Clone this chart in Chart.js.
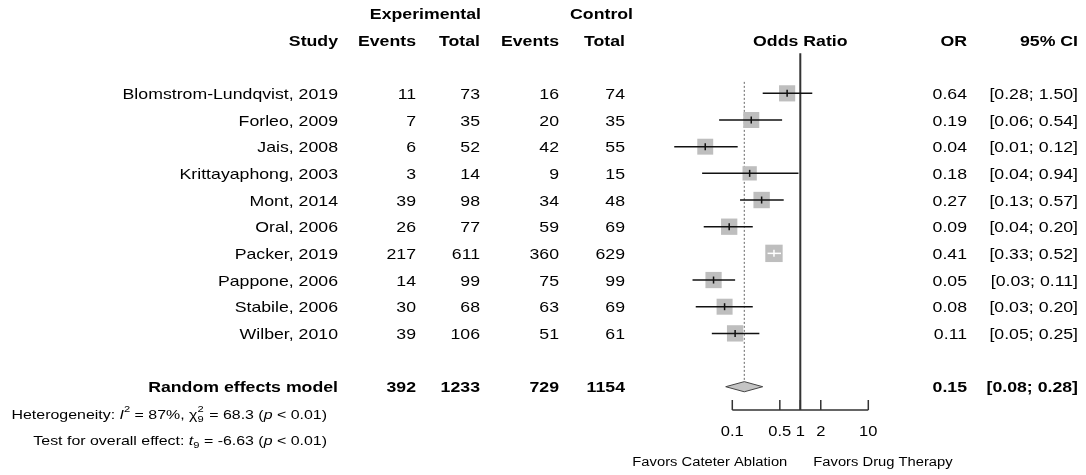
<!DOCTYPE html>
<html>
<head>
<meta charset="utf-8">
<script src="https://cdn.jsdelivr.net/npm/chart.js@4.4.0/dist/chart.umd.min.js"></script>
<style>
body { margin: 0; background: #fff; }
#wrap { width: 1086px; height: 475px; position: relative; }
</style>
</head>
<body>
<div id="wrap"><canvas id="forest"></canvas></div>
<script>
// study data
const studies = ['Blomstrom-Lundqvist, 2019', 'Forleo, 2009', 'Jais, 2008', 'Krittayaphong, 2003', 'Mont, 2014',
  'Oral, 2006', 'Packer, 2019', 'Pappone, 2006', 'Stabile, 2006', 'Wilber, 2010'];
const expEvents = [11, 7, 6, 3, 39, 26, 217, 14, 30, 39];
const expTotal = [73, 35, 52, 14, 98, 77, 611, 99, 68, 106];
const ctrlEvents = [16, 20, 42, 9, 34, 59, 360, 75, 63, 51];
const ctrlTotal = [74, 35, 55, 15, 48, 69, 629, 99, 69, 61];
const oddsRatio = [0.64, 0.19, 0.04, 0.18, 0.27, 0.09, 0.41, 0.053, 0.077, 0.11];
const ciLower = [0.28, 0.064, 0.014, 0.036, 0.13, 0.038, 0.33, 0.026, 0.029, 0.05];
const ciUpper = [1.50, 0.54, 0.12, 0.94, 0.57, 0.20, 0.52, 0.11, 0.20, 0.25];
const weights = [10.2, 10.0, 9.9, 8.0, 10.5, 10.4, 11.8, 10.3, 10.0, 10.4];

const pooledOR = 0.15;
const pooledLower = 0.08;
const pooledUpper = 0.28;
const axisTicks = [0.1, 0.5, 1, 2, 10];

const sum = a => a.reduce((s, v) => s + v, 0);
const summaryRow = studies.length + 1;
const axisRow = 11.875;

const SX = 1.18;   // the picture is stretched sideways
const FONT = '"Liberation Sans", Arial, sans-serif';

// column right edges
const colStudy = 338, colEE = 416, colET = 480, colCE = 559, colCT = 625, colOR = 967, colCI = 1078;

function txt(ctx, s, x, y, align, size, bold) {
  ctx.save();
  ctx.translate(x, y);
  ctx.scale(SX, 1);
  ctx.font = (bold ? 'bold ' : '') + size + 'px ' + FONT;
  ctx.textAlign = align;
  ctx.textBaseline = 'middle';
  ctx.fillStyle = '#000';
  ctx.fillText(s, 0, 0);
  ctx.restore();
}

function rich(ctx, parts, xRight, y, size) {
  ctx.save();
  ctx.translate(xRight, y);
  ctx.scale(SX, 1);
  ctx.textBaseline = 'middle';
  ctx.textAlign = 'left';
  ctx.fillStyle = '#000';
  const small = size * 0.7;
  const f = p => (p.i ? 'italic ' : '') + ((p.sup || p.sub || p.ss) ? small : size) + 'px ' + FONT;
  let w = 0;
  parts.forEach(p => {
    ctx.font = f(p);
    p.w = ctx.measureText(p.ss ? p.ss[0] : p.t).width + (p.ss ? 1 : 0);
    w += p.w;
  });
  let x = -w;
  parts.forEach(p => {
    ctx.font = f(p);
    if (p.ss) { ctx.fillText(p.ss[0], x, -size * 0.38); ctx.fillText(p.ss[1], x, size * 0.3); }
    else if (p.sup) ctx.fillText(p.t, x, -size * 0.38);
    else if (p.sub) ctx.fillText(p.t, x, size * 0.3);
    else ctx.fillText(p.t, x, 0);
    x += p.w;
  });
  ctx.restore();
}

const tablePlugin = {
  id: 'table',
  afterDraw(chart) {
    const ctx = chart.ctx;
    const xs = chart.scales.x, ys = chart.scales.y;
    const Y = r => ys.getPixelForValue(r) + 1.5;
    const S = 15;

    // headers
    txt(ctx, 'Experimental', 481, Y(-3), 'right', S, true);
    txt(ctx, 'Control', 633, Y(-3), 'right', S, true);
    txt(ctx, 'Study', colStudy, Y(-2), 'right', S, true);
    txt(ctx, 'Events', colEE, Y(-2), 'right', S, true);
    txt(ctx, 'Total', colET, Y(-2), 'right', S, true);
    txt(ctx, 'Events', colCE, Y(-2), 'right', S, true);
    txt(ctx, 'Total', colCT, Y(-2), 'right', S, true);
    txt(ctx, 'Odds Ratio', xs.getPixelForValue(1), Y(-2), 'center', S, true);
    txt(ctx, 'OR', colOR, Y(-2), 'right', S, true);
    txt(ctx, '95% CI', colCI, Y(-2), 'right', S, true);

    studies.forEach((s, i) => {
      txt(ctx, s, colStudy, Y(i), 'right', S);
      txt(ctx, String(expEvents[i]), colEE, Y(i), 'right', S);
      txt(ctx, String(expTotal[i]), colET, Y(i), 'right', S);
      txt(ctx, String(ctrlEvents[i]), colCE, Y(i), 'right', S);
      txt(ctx, String(ctrlTotal[i]), colCT, Y(i), 'right', S);
      txt(ctx, oddsRatio[i].toFixed(2), colOR, Y(i), 'right', S);
      txt(ctx, '[' + ciLower[i].toFixed(2) + '; ' + ciUpper[i].toFixed(2) + ']', colCI, Y(i), 'right', S);
    });

    txt(ctx, 'Random effects model', colStudy, Y(summaryRow), 'right', S, true);
    txt(ctx, String(sum(expEvents)), colEE, Y(summaryRow), 'right', S, true);
    txt(ctx, String(sum(expTotal)), colET, Y(summaryRow), 'right', S, true);
    txt(ctx, String(sum(ctrlEvents)), colCE, Y(summaryRow), 'right', S, true);
    txt(ctx, String(sum(ctrlTotal)), colCT, Y(summaryRow), 'right', S, true);
    txt(ctx, pooledOR.toFixed(2), colOR, Y(summaryRow), 'right', S, true);
    txt(ctx, '[' + pooledLower.toFixed(2) + '; ' + pooledUpper.toFixed(2) + ']', colCI, Y(summaryRow), 'right', S, true);

    rich(ctx, [
      { t: 'Heterogeneity: ' }, { t: 'I', i: true }, { t: '2', sup: true }, { t: ' = 87%, \u03c7' },
      { ss: ['2', '9'] }, { t: ' = 68.3 (' }, { t: 'p', i: true }, { t: ' < 0.01)' }
    ], 327, Y(summaryRow + 1), 13.5);
    rich(ctx, [
      { t: 'Test for overall effect: ' }, { t: 't', i: true }, { t: '9', sub: true },
      { t: ' = -6.63 (' }, { t: 'p', i: true }, { t: ' < 0.01)' }
    ], 327, Y(summaryRow + 2), 13.5);

    // x axis
    const yAxis = ys.getPixelForValue(axisRow);
    const yTick = ys.getPixelForValue(axisRow - 0.375);
    ctx.save();
    ctx.strokeStyle = '#333';
    ctx.lineWidth = 1.5;
    ctx.beginPath();
    ctx.moveTo(xs.getPixelForValue(axisTicks[0]), yAxis);
    ctx.lineTo(xs.getPixelForValue(axisTicks[axisTicks.length - 1]), yAxis);
    axisTicks.forEach(t => {
      const px = xs.getPixelForValue(t);
      ctx.moveTo(px, yAxis);
      ctx.lineTo(px, yTick);
    });
    ctx.stroke();
    ctx.restore();
    axisTicks.forEach(t => txt(ctx, String(t), xs.getPixelForValue(t), ys.getPixelForValue(12.7), 'center', 14));

    const x1 = xs.getPixelForValue(1);
    txt(ctx, 'Favors Cateter Ablation', x1 - 13, ys.getPixelForValue(13.86), 'right', 12.5);
    txt(ctx, 'Favors Drug Therapy', x1 + 13, ys.getPixelForValue(13.86), 'left', 12.5);
  }
};

const squareSide = w => 16 * Math.sqrt(w / 10);

const datasets = [];

// squares
datasets.push({
  data: studies.map((s, i) => ({ x: oddsRatio[i], y: i })),
  pointStyle: 'rect',
  pointRadius: weights.map(w => squareSide(w) / (2 * Math.SQRT1_2)),
  backgroundColor: '#BEBEBE',
  borderWidth: 0,
  order: 5
});

// confidence intervals and point ticks
const inside = studies.map((s, i) => {
  // CI drawn white when it fits inside the square
  const half = squareSide(weights[i]) / 2 / 68;
  return Math.log10(ciUpper[i] / oddsRatio[i]) < half && Math.log10(oddsRatio[i] / ciLower[i]) < half;
});
studies.forEach((s, i) => {
  datasets.push({
    data: [{ x: ciLower[i], y: i }, { x: ciUpper[i], y: i }],
    showLine: true,
    borderColor: inside[i] ? '#fff' : '#111',
    borderWidth: 1.5,
    pointRadius: 0,
    order: 3
  });
});
datasets.push({
  data: studies.map((s, i) => ({ x: oddsRatio[i], y: i })),
  pointStyle: 'line',
  rotation: 90,
  pointRadius: 3.5,
  borderColor: studies.map((s, i) => inside[i] ? '#fff' : '#111'),
  borderWidth: 1.5,
  order: 2
});

// line of no effect
datasets.push({
  data: [{ x: 1, y: -1.5 }, { x: 1, y: axisRow }],
  showLine: true,
  borderColor: '#333',
  borderWidth: 2,
  pointRadius: 0,
  order: 6
});
// pooled estimate
datasets.push({
  data: [{ x: pooledOR, y: -0.43 }, { x: pooledOR, y: summaryRow - 0.19 }],
  showLine: true,
  borderColor: '#666',
  borderWidth: 1,
  borderDash: [2, 2],
  pointRadius: 0,
  order: 7
});
// diamond
datasets.push({
  data: [
    { x: pooledLower, y: summaryRow }, { x: pooledOR, y: summaryRow - 0.19 },
    { x: pooledUpper, y: summaryRow }, { x: pooledOR, y: summaryRow + 0.19 },
    { x: pooledLower, y: summaryRow }
  ],
  showLine: true,
  fill: 'shape',
  backgroundColor: '#C4C4C4',
  borderColor: '#444',
  borderWidth: 1,
  tension: 0,
  pointRadius: 0,
  order: 1
});

new Chart(document.getElementById('forest'), {
  type: 'scatter',
  data: { datasets: datasets.map(d => Object.assign({ clip: false }, d)) },
  options: {
    responsive: true,
    maintainAspectRatio: false,
    animation: false,
    events: [],
    layout: { autoPadding: false, padding: { left: 664.3, right: 1086 - 936.3, top: 0, bottom: 0 } },
    plugins: { legend: { display: false }, tooltip: { enabled: false } },
    scales: {
      x: { type: 'logarithmic', min: 0.01, max: 100, display: false },
      y: { type: 'linear', reverse: true, min: -3.5, max: -3.5 + 475 / 26.67, display: false }
    }
  },
  plugins: [tablePlugin]
});
</script>
</body>
</html>
